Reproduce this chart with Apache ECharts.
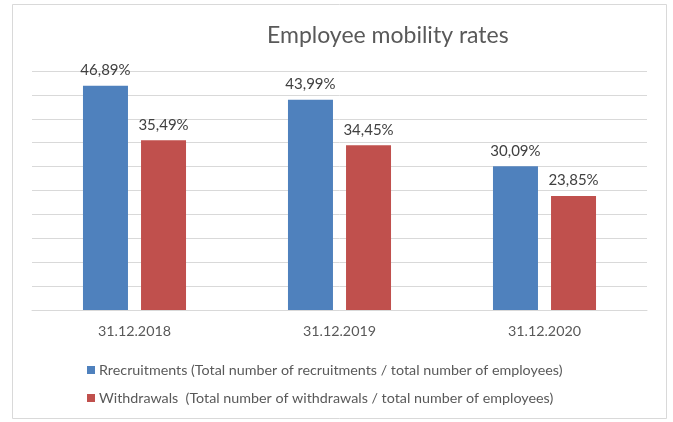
<!DOCTYPE html>
<html>
<head>
<meta charset="utf-8">
<script src="https://cdn.jsdelivr.net/npm/echarts@6/dist/echarts.min.js"></script>
<style>
  html, body { margin: 0; padding: 0; background: #fff; }
  #chart { width: 673px; height: 422px; }
</style>
</head>
<body>
<div id="chart"></div>
<script>
// Category labels on the x axis
const categories = ['31.12.2018', '31.12.2019', '31.12.2020'];
// Rates in percent
const recruitments = [46.89, 43.99, 30.09];
const withdrawals = [35.49, 34.45, 23.85];
const seriesNames = [
  'Rrecruitments (Total number of recruitments / total number of employees)',
  'Withdrawals  (Total number of withdrawals / total number of employees)'
];

const FONT = 'Lato, "Open Sans", sans-serif';
const pct = v => v.toFixed(2).replace('.', ',') + '%';

const chart = echarts.init(document.getElementById('chart'), null, { renderer: 'canvas' });

const labelStyle = {
  show: true,
  position: 'top',
  distance: 8,
  color: '#404040',
  fontFamily: FONT,
  fontSize: 15,
  formatter: p => pct(p.value)
};

chart.setOption({
  animation: false,
  backgroundColor: '#ffffff',
  graphic: [{
    type: 'rect',
    shape: { x: 12.5, y: 4.5, width: 654, height: 414 },
    style: { fill: 'none', stroke: '#d9d9d9', lineWidth: 1 },
    silent: true
  }],
  title: {
    text: 'Employee mobility rates',
    left: 262,
    top: 19,
    textStyle: { color: '#595959', fontFamily: FONT, fontSize: 23, fontWeight: 'normal' }
  },
  legend: {
    orient: 'vertical',
    left: 82,
    top: 358,
    itemWidth: 8,
    itemHeight: 8,
    itemGap: 14,
    icon: 'rect',
    textStyle: { color: '#595959', fontFamily: FONT, fontSize: 14.3, padding: [0, 0, 0, -1] },
    data: seriesNames
  },
  grid: { left: 32, right: 26, top: 71, bottom: 112, containLabel: false },
  xAxis: {
    type: 'category',
    data: categories,
    axisLine: { lineStyle: { color: '#d9d9d9', width: 1 } },
    axisTick: { show: false },
    axisLabel: { color: '#595959', fontFamily: FONT, fontSize: 14.3, margin: 14 }
  },
  yAxis: {
    type: 'value',
    min: 0,
    max: 50,
    interval: 5,
    axisLine: { show: false },
    axisTick: { show: false },
    axisLabel: { show: false },
    splitLine: { lineStyle: { color: '#d9d9d9', width: 1 } }
  },
  series: [
    {
      name: seriesNames[0],
      type: 'bar',
      data: recruitments,
      barWidth: 45,
      barGap: '29%',
      itemStyle: { color: '#4f81bd' },
      label: labelStyle
    },
    {
      name: seriesNames[1],
      type: 'bar',
      data: withdrawals,
      barWidth: 45,
      itemStyle: { color: '#c0504d' },
      label: labelStyle
    }
  ]
});
</script>
</body>
</html>
